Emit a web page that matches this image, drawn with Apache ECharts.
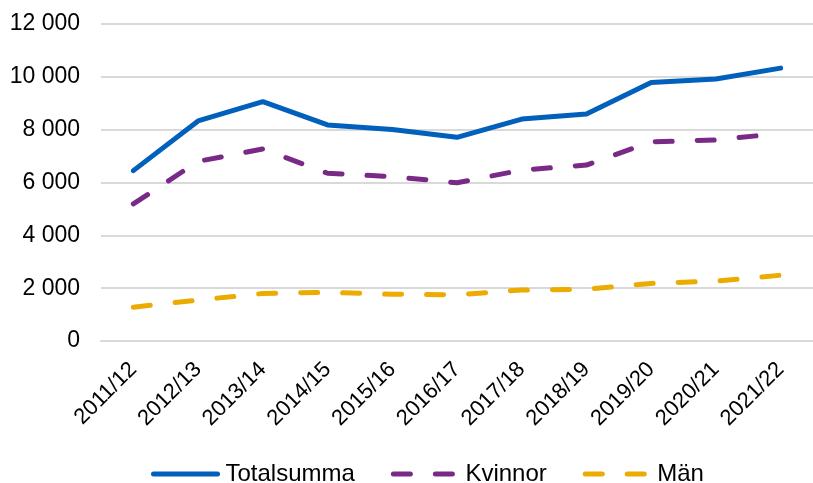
<!DOCTYPE html>
<html>
<head>
<meta charset="utf-8">
<script src="https://cdn.jsdelivr.net/npm/echarts@6/dist/echarts.min.js"></script>
<style>
  html, body { margin: 0; padding: 0; background: #fff; }
  #chart { width: 813px; height: 483px; }
</style>
</head>
<body>
<div id="chart"></div>
<script>
// Läsår
const years = ['2011/12', '2012/13', '2013/14', '2014/15', '2015/16', '2016/17',
  '2017/18', '2018/19', '2019/20', '2020/21', '2021/22'];

const totalsumma = [6450, 8330, 9060, 8180, 8010, 7710, 8400, 8590, 9790, 9920, 10330];
const kvinnor = [5190, 6800, 7270, 6350, 6220, 5990, 6470, 6660, 7540, 7610, 7860];
const man = [1280, 1550, 1800, 1840, 1770, 1750, 1930, 1960, 2180, 2270, 2490];

const yTicks = [0, 2000, 4000, 6000, 8000, 10000, 12000];

const fontFamily = '"Liberation Sans", Arial, sans-serif';

function spaced(v) {
  return String(v).replace(/\B(?=(\d{3})+(?!\d))/g, ' ');
}

function lineSeries(name, data, color, dashed) {
  return {
    name: name,
    type: 'line',
    data: data,
    symbol: 'none',
    smooth: false,
    lineStyle: {
      color: color,
      width: 5,
      type: dashed ? [17, 25] : 'solid',
      cap: 'round',
      join: 'round'
    },
    itemStyle: { color: color }
  };
}

const chart = echarts.init(document.getElementById('chart'));
chart.setOption({
  animation: false,
  textStyle: { fontFamily: fontFamily },
  grid: { left: 101, right: -11, top: 24, bottom: 142, containLabel: false },
  legend: {
    top: 457,
    left: 146,
    itemWidth: 64,
    itemHeight: 14,
    itemGap: 36,
    lineStyle: { width: 5, cap: 'round' },
    itemStyle: { opacity: 0 },
    textStyle: { fontSize: 24, color: '#000', fontFamily: fontFamily, padding: [0, 0, 0, 3] },
    data: ['Totalsumma', 'Kvinnor', 'Män']
  },
  xAxis: {
    type: 'category',
    data: years,
    boundaryGap: true,
    axisLine: { show: true, lineStyle: { color: '#d9d9d9', width: 2 } },
    axisTick: { show: false },
    axisLabel: {
      rotate: 45,
      fontSize: 22,
      color: '#000',
      margin: 25,
      interval: 0
    }
  },
  yAxis: {
    type: 'value',
    min: yTicks[0],
    max: yTicks[yTicks.length - 1],
    interval: 2000,
    axisLine: { show: false },
    axisTick: { show: false },
    splitLine: { lineStyle: { color: '#d9d9d9', width: 2 } },
    axisLabel: {
      fontSize: 23,
      color: '#000',
      margin: 21,
      formatter: v => spaced(v)
    }
  },
  series: [
    lineSeries('Totalsumma', totalsumma, '#0060BB', false),
    lineSeries('Kvinnor', kvinnor, '#782A86', true),
    lineSeries('Män', man, '#EBAB00', true)
  ]
});
</script>
</body>
</html>
